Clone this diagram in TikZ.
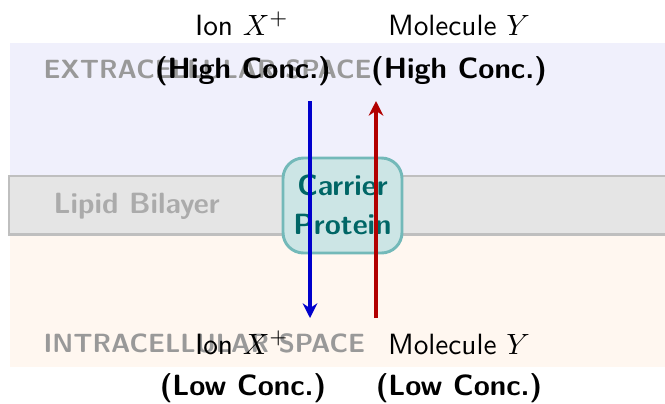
\documentclass[tikz,border=0pt]{standalone}
\usetikzlibrary{arrows.meta}
\definecolor{extracol}{RGB}{240,240,252}
\definecolor{intracol}{RGB}{255,247,240}
\tikzset{
  lbl/.style={font=\sffamily, inner sep=0pt, anchor=base},
  conc/.style={font=\sffamily\bfseries, inner sep=0pt, anchor=base},
  region/.style={font=\sffamily\bfseries\small, text=black!40, inner sep=0pt, anchor=base west},
  layerlbl/.style={font=\sffamily\bfseries, text=black!33, inner sep=0pt, anchor=base west},
  carrier/.style={draw=teal!55, fill=teal!20, line width=1pt, rounded corners=7pt,
    minimum width=119*0.3413pt, minimum height=95*0.3413pt},
  carriertxt/.style={font=\sffamily\bfseries, text=teal!80!black, inner sep=0pt, anchor=base},
  flow/.style={line width=1.2pt, -{Stealth[length=5pt,width=5pt]}}
}
\begin{document}
\begin{tikzpicture}[x=0.3413pt,y=-0.3413pt]
\useasboundingbox (0,0) rectangle (665,403);
% regions
\fill[extracol] (10,43) rectangle (670,176);
\fill[intracol] (10,234.5) rectangle (670,367);
\fill[gray!20] (9,176) rectangle (670,234.5);
\draw[gray!50, line width=0.7pt] (670,176) -- (9,176) -- (9,234.5) -- (670,234.5);
% region labels
\node[region] (extra) at (43,78) {EXTRACELLULAR SPACE};
\node[region] (intra) at (43,352) {INTRACELLULAR SPACE};
\node[layerlbl] (lipid) at (53,213) {Lipid Bilayer};
% carrier protein
\node[carrier] (prot) at (342.5,205.5) {};
\node[carriertxt] (prot1) at (342.5,195) {Carrier};
\node[carriertxt] (prot2) at (342.5,234) {Protein};
% arrows
\coordinate (xtop) at (310,101);
\coordinate (xbot) at (310,318);
\coordinate (ytop) at (376,101);
\coordinate (ybot) at (376,318);
\draw[flow, blue!80!black] (xtop) -- (xbot);
\draw[flow, red!70!black] (ybot) -- (ytop);
% labels top
\node[lbl] (ionT) at (242,35) {Ion $X^+$};
\node[conc] (ionTc) at (243,78) {(High Conc.)};
\node[lbl] (molT) at (459,35) {Molecule $Y$};
\node[conc] (molTc) at (459,78) {(High Conc.)};
% labels bottom
\node[lbl] (ionB) at (242,354) {Ion $X^+$};
\node[conc] (ionBc) at (243,395) {(Low Conc.)};
\node[lbl] (molB) at (459,354) {Molecule $Y$};
\node[conc] (molBc) at (459,395) {(Low Conc.)};
\end{tikzpicture}
\end{document}
